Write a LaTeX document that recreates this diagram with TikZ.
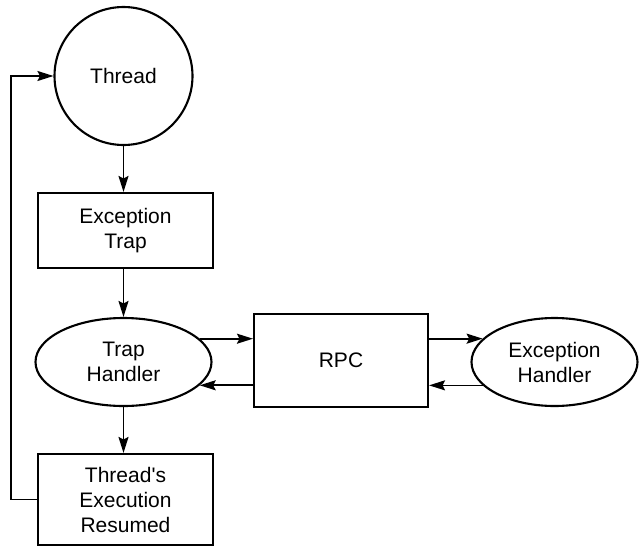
\documentclass[tikz,border=0pt]{standalone}
\usepackage{fontspec}
\setmainfont{Liberation Sans}
\usetikzlibrary{shapes.geometric,arrows.meta}
\begin{document}
\begin{tikzpicture}[x=1pt,y=1pt,
  every node/.style={draw,line width=2.1pt,inner sep=0pt,align=center,
    font=\fontsize{21}{25}\selectfont},
  roundstate/.style={circle,minimum size=138pt},
  stepbox/.style={rectangle},
  handler/.style={ellipse},
  flow/.style={line width=1.7pt,-{Stealth[length=16pt,width=10pt,inset=2.5pt]}}]
\useasboundingbox (0,0) rectangle (640,-546);

\node[roundstate] (thread) at (123.5,-76) {Thread};
\node[stepbox,minimum width=175pt,minimum height=75pt] (trap) at (125.5,-230.5) {Exception\\Trap};
\node[handler,minimum width=176pt,minimum height=88pt] (th) at (123.5,-362) {Trap\\Handler};
\node[stepbox,minimum width=174pt,minimum height=93pt] (rpc) at (341,-360.5) {RPC};
\node[handler,minimum width=166pt,minimum height=88pt] (eh) at (554.5,-362) {Exception\\Handler};
\node[stepbox,minimum width=175pt,minimum height=91pt] (res) at (125.5,-499.5) {Thread\textquotesingle s\\Execution\\Resumed};
\coordinate (loopx) at (11,0);

\draw[flow] (thread.south) -- (thread.south |- trap.north);
\draw[flow] (trap.south -| thread.south) -- (th.north);
\draw[flow] (th.south) -- (th.south |- res.north);

\draw[flow] (th.17) -- (th.17 -| rpc.west);
\draw[flow] (th.-17 -| rpc.west) -- (th.-17);
\draw[flow] (eh.162 -| rpc.east) -- (eh.162);
\draw[flow] (eh.198) -- (eh.198 -| rpc.east);

\draw[flow] (res.west) -- (res.west -| loopx) |- (thread.west);
\end{tikzpicture}
\end{document}
